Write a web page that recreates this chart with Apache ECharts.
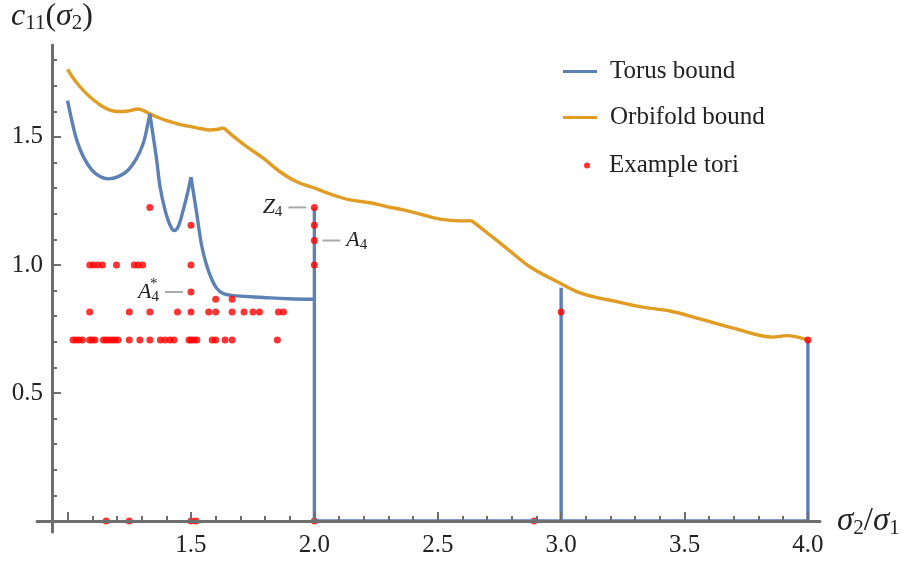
<!DOCTYPE html>
<html><head><meta charset="utf-8">
<script src="https://cdn.jsdelivr.net/npm/echarts@6/dist/echarts.min.js"></script>
<style>html,body{margin:0;padding:0;background:#fff}#c{width:913px;height:562px}</style>
</head><body><div id="c"></div>
<script>
// ---------- data ----------
const torusSegA = [[1.0,1.642],[1.0166,1.566],[1.0369,1.488],[1.0636,1.423],[1.0977,1.371],[1.1313,1.345],[1.1649,1.336],[1.2054,1.345],[1.2459,1.371],[1.2800,1.417],[1.3067,1.475],[1.3229,1.540],[1.3333,1.590]];
const torusSegB = [[1.3333,1.590],[1.3472,1.501],[1.3610,1.410],[1.3744,1.306],[1.3947,1.215],[1.4149,1.156],[1.4323,1.134],[1.4485,1.150],[1.4688,1.215],[1.4891,1.293],[1.5,1.343]];
const torusSegC = [[1.5,1.343],[1.5231,1.202],[1.5434,1.075],[1.5636,0.998],[1.5839,0.945],[1.6041,0.909],[1.6309,0.888],[1.6852,0.879],[1.7929,0.873],[1.8942,0.868],[2.0,0.866]];
const torusSteps = [[2.0,0.866],[2.0,1.2247],[2.0,0],[3.0,0],[3.0,0.911],[3.0,0],[4.0,0],[4.0,0.7071]];

const orbiSegA = [[1.0,1.764],[1.0231,1.729],[1.0502,1.696],[1.0774,1.668],[1.1041,1.645],[1.1382,1.621],[1.1718,1.605],[1.2054,1.599],[1.2395,1.600],[1.2865,1.609],[1.3136,1.600],[1.3339,1.590],[1.3744,1.573],[1.4149,1.560],[1.4554,1.548],[1.4960,1.541],[1.5365,1.533],[1.5770,1.527],[1.6106,1.530],[1.6330,1.536]];
const orbiSegB = [[1.6330,1.536],[1.6649,1.508],[1.6985,1.482],[1.7257,1.462],[1.7929,1.417],[1.8606,1.364],[1.9283,1.325],[2.0093,1.297],[2.0766,1.273],[2.1442,1.254],[2.2253,1.243],[2.2930,1.228],[2.3602,1.215],[2.4413,1.195],[2.5089,1.179],[2.5900,1.172],[2.6374,1.173]];
const orbiSegC = [[2.6374,1.173],[2.7115,1.117],[2.7792,1.065],[2.873,0.993],[2.9951,0.929],[3.0628,0.896],[3.1299,0.876],[3.2248,0.857],[3.3193,0.837],[3.4408,0.820],[3.5624,0.789],[3.6975,0.753],[3.8591,0.718],[3.9135,0.724],[4.0,0.707]];

// example tori: x positions grouped by c11 value
const toriY = [0.7071, 0.8165, 0.8660, 0.8944, 1.0, 1.0954, 1.1547, 1.2247];
const toriX_0707 = [1.022,1.034,1.046,1.060,1.089,1.099,1.111,1.145,1.156,1.168,1.180,1.192,1.204,1.25,1.293,1.3333,1.376,1.395,1.415,1.431,1.492,1.5,1.512,1.524,1.586,1.6,1.638,1.6667,1.85,4.0];
const toriX_0816 = [1.0896,1.25,1.3333,1.4453,1.5,1.5717,1.6,1.6667,1.7148,1.7512,1.7775,1.8545,1.8748,3.0];
const toriX_0866 = [1.6,1.6667];
const toriX_0894 = [1.5];
const toriX_1000 = [1.090,1.105,1.123,1.141,1.198,1.270,1.286,1.304,1.5,2.0];
const toriX_1095 = [2.0];
const toriX_1155 = [1.5,2.0];
const toriX_1225 = [1.3333,2.0];
const toriX_zero = [1.156,1.25,1.5,1.52,2.0,2.89];

// annotations
const annoX = [2.0, 2.0, 1.5];
const annoY = [1.2247, 1.0954, 0.8944];
const annoMain = ['Z','A','A'];
const annoSub = ['4','4','4'];
const annoSup = ['','','*'];
const annoSide = ['left','right','left'];

// ticks
const xMajorTicks = [1.0,1.5,2.0,2.5,3.0,3.5,4.0];
const xTickLabels = [1.5,2.0,2.5,3.0,3.5,4.0];
const yMajorTicks = [0.5,1.0,1.5];
const yTickLabels = [0.5,1.0,1.5];

// ---------- build ----------
function minorTicks(a,b,majors){const r=[];for(let k=Math.round(a*10);k<=Math.round(b*10);k++){const v=k/10;if(!majors.some(m=>Math.abs(m-v)<1e-9))r.push(v);}return r;}
const xMinorTicks = minorTicks(1.0,4.0,xMajorTicks);
const yMinorTicks = minorTicks(0.1,1.8,yMajorTicks);

const toriRows = [toriX_0707,toriX_0816,toriX_0866,toriX_0894,toriX_1000,toriX_1095,toriX_1155,toriX_1225];
const toriPts = [];
toriRows.forEach((row,i)=>row.forEach(x=>toriPts.push([x,toriY[i]])));
const toriZeroPts = toriX_zero.map(x=>[x,0]);
const annoData = annoX.map((x,i)=>[x,annoY[i]]);

const FONT = 'Liberation Serif';
const AX = '#6e6e6e';
const TXT = '#222';
const BLUE = '#5E81B5', ORANGE = '#E19C24', RED = '#FF0000';
const XMIN = 0.876, XMAX = 4.049, YMIN = -0.043, YMAX = 1.859;

function lineSeries(name, data, color, smooth, z){
  return {type:'line', name, data, smooth, showSymbol:false, symbol:'none', z:z,
    lineStyle:{color, width:3.4}, itemStyle:{color}, silent:true, animation:false};
}

const chart = echarts.init(document.getElementById('c'));
chart.setOption({
  animation:false,
  backgroundColor:'#fff',
  grid:{left:37, right:93, top:45, bottom:30},
  xAxis:[
    {type:'value', min:XMIN, max:XMAX,
     axisLine:{onZero:true, lineStyle:{color:AX, width:3}},
     axisTick:{inside:true, length:5, customValues:xMinorTicks, lineStyle:{color:AX, width:2}},
     axisLabel:{customValues:xTickLabels, formatter:v=>v.toFixed(1), fontFamily:FONT, fontSize:25, color:TXT, margin:1},
     splitLine:{show:false},
     name:'{i|σ}{s|2}{n|/}{i|σ}{s|1}', nameLocation:'end', nameGap:17,
     nameTextStyle:{rich:{
       i:{fontFamily:FONT, fontStyle:'italic', fontSize:33, color:TXT},
       n:{fontFamily:FONT, fontSize:33, color:TXT},
       s:{fontFamily:FONT, fontSize:21, color:TXT, padding:[15,0,0,0]}}}},
    {type:'value', min:XMIN, max:XMAX, position:'bottom',
     axisLine:{show:false, onZero:true},
     axisTick:{inside:true, length:9, customValues:xMajorTicks, lineStyle:{color:AX, width:2}},
     axisLabel:{show:false}, splitLine:{show:false}}
  ],
  yAxis:[
    {type:'value', min:YMIN, max:YMAX, position:'left', offset:-15,
     axisLine:{lineStyle:{color:AX, width:3}},
     axisTick:{inside:true, length:5, customValues:yMinorTicks, lineStyle:{color:AX, width:2}},
     axisLabel:{customValues:yTickLabels, formatter:v=>v.toFixed(1), fontFamily:FONT, fontSize:25, color:TXT, margin:9},
     splitLine:{show:false},
     name:'{i|c}{s|11}{n|(}{i|σ}{s|2}{n|)}', nameLocation:'end', nameGap:11,
     nameTextStyle:{align:'center', rich:{
       i:{fontFamily:FONT, fontStyle:'italic', fontSize:32, color:TXT},
       n:{fontFamily:FONT, fontSize:32, color:TXT},
       s:{fontFamily:FONT, fontSize:21, color:TXT, padding:[14,0,0,0]}}}},
    {type:'value', min:YMIN, max:YMAX, position:'left', offset:-15,
     axisLine:{show:false},
     axisTick:{inside:true, length:9, customValues:yMajorTicks, lineStyle:{color:AX, width:2}},
     axisLabel:{show:false}, splitLine:{show:false}}
  ],
  legend:[
    {data:['Torus bound'], left:563, top:59, padding:0, itemWidth:34, itemHeight:3, icon:'rect', selectedMode:false,
     textStyle:{fontFamily:FONT, fontSize:25, color:TXT, padding:[0,0,0,8]}},
    {data:['Orbifold bound'], left:563, top:105, padding:0, itemWidth:34, itemHeight:3, icon:'rect', selectedMode:false,
     textStyle:{fontFamily:FONT, fontSize:25, color:TXT, padding:[0,0,0,8]}},
    {data:['Example tori'], left:584, top:153, padding:0, itemWidth:34, itemHeight:6, icon:'circle', selectedMode:false,
     textStyle:{fontFamily:FONT, fontSize:25, color:TXT}}
  ],
  series:[
    lineSeries('Torus bound', torusSegA, BLUE, 0.35, 3),
    lineSeries('Torus bound', torusSegB, BLUE, 0.35, 3),
    lineSeries('Torus bound', torusSegC, BLUE, 0.4, 3),
    lineSeries('Torus bound', torusSteps, BLUE, false, -1),
    lineSeries('Orbifold bound', orbiSegA, ORANGE, 0.35, 2),
    lineSeries('Orbifold bound', orbiSegB, ORANGE, 0.35, 2),
    lineSeries('Orbifold bound', orbiSegC, ORANGE, 0.35, 2),
    {type:'scatter', name:'Example tori', data:toriPts, symbolSize:7, itemStyle:{color:RED}, z:5, silent:true},
    {type:'scatter', name:'Example tori', data:toriZeroPts, symbolSize:7, itemStyle:{color:RED}, z:-2, silent:true},
    {type:'custom', name:'annotations', coordinateSystem:'cartesian2d', data:annoData, z:6, silent:true,
     renderItem:function(params, api){
       const i = params.dataIndex;
       const p = api.coord([api.value(0), api.value(1)]);
       const dir = annoSide[i]==='left' ? -1 : 1;
       const x1 = p[0] + dir*8, x2 = p[0] + dir*26;
       const tx = p[0] + dir*32;
       const rich = {
         i:{fontFamily:FONT, fontStyle:'italic', fontSize:22, fill:TXT, color:TXT},
         s:{fontFamily:FONT, fontSize:15, fill:TXT, color:TXT, padding:[10,0,0,0]}
       };
       const children = [
         {type:'line', shape:{x1:x1, y1:p[1], x2:x2, y2:p[1]}, style:{stroke:'#aaaaaa', lineWidth:2}},
         {type:'text', style:{text:'{i|'+annoMain[i]+'}{s|'+annoSub[i]+'}', rich:rich, x:tx, y:p[1],
            align: dir<0 ? 'right':'left', verticalAlign:'middle'}}
       ];
       if (annoSup[i]) {
         children.push({type:'text', style:{text:annoSup[i], x:tx-9, y:p[1]-8, fontFamily:FONT, fontSize:15, fill:TXT,
           align:'left', verticalAlign:'middle'}});
       }
       return {type:'group', children:children};
     }}
  ]
});
</script>
</body></html>
